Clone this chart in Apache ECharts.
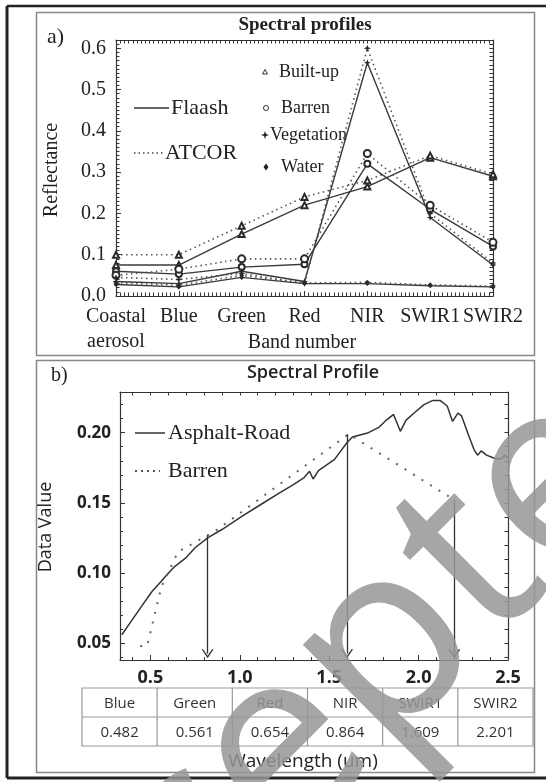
<!DOCTYPE html>
<html>
<head>
<meta charset="utf-8">
<script src="https://cdn.jsdelivr.net/npm/echarts@6/dist/echarts.min.js"></script>
<style>
  html, body { margin: 0; padding: 0; background: #fff; }
  #chart { width: 546px; height: 782px; }
</style>
</head>
<body>
<div id="chart"></div>
<script>
// panel a: band profiles
var bands = ['Coastal\naerosol', 'Blue', 'Green', 'Red', 'NIR', 'SWIR1', 'SWIR2'];
var builtFlaash = [0.075, 0.075, 0.15, 0.22, 0.265, 0.335, 0.29];
var builtAtcor = [0.10, 0.10, 0.17, 0.24, 0.28, 0.34, 0.295];
var barrenFlaash = [0.06, 0.053, 0.07, 0.077, 0.32, 0.21, 0.12];
var barrenAtcor = [0.05, 0.065, 0.09, 0.09, 0.345, 0.22, 0.13];
var vegFlaash = [0.035, 0.03, 0.06, 0.035, 0.565, 0.19, 0.075];
var vegAtcor = [0.045, 0.04, 0.055, 0.03, 0.60, 0.20, 0.08];
var waterFlaash = [0.028, 0.022, 0.045, 0.03, 0.03, 0.025, 0.022];
var waterAtcor = [0.032, 0.026, 0.05, 0.032, 0.033, 0.027, 0.024];
var aTicks = [0.0, 0.1, 0.2, 0.3, 0.4, 0.5, 0.6];

// panel b: spectral profile
var asphaltWl = [0.34, 0.40, 0.46, 0.51, 0.56, 0.58, 0.63, 0.70, 0.75, 0.82, 0.90, 1.02, 1.12, 1.22, 1.30, 1.36, 1.39, 1.41, 1.44, 1.53, 1.60, 1.63, 1.72, 1.78, 1.82, 1.86, 1.898, 1.93, 1.975, 2.03, 2.08, 2.12, 2.16, 2.19, 2.22, 2.24, 2.28, 2.31, 2.33, 2.35, 2.38, 2.42, 2.46, 2.48, 2.50];
var asphaltVal = [0.056, 0.067, 0.078, 0.087, 0.094, 0.097, 0.104, 0.111, 0.118, 0.125, 0.131, 0.141, 0.149, 0.157, 0.163, 0.168, 0.1725, 0.167, 0.173, 0.181, 0.193, 0.197, 0.200, 0.204, 0.209, 0.213, 0.201, 0.209, 0.214, 0.220, 0.223, 0.223, 0.219, 0.208, 0.214, 0.212, 0.198, 0.188, 0.184, 0.187, 0.184, 0.182, 0.181, 0.184, 0.182];
var barrenWl = [0.443, 0.482, 0.561, 0.654, 0.864, 1.609, 2.201];
var barrenVal = [0.048, 0.048, 0.09, 0.115, 0.13, 0.199, 0.152];
var arrowWl = [0.82, 1.6, 2.2];
var arrowTop = [0.127, 0.199, 0.152];
var bTicksX = [0.5, 1.0, 1.5, 2.0, 2.5];
var bTicksY = [0.05, 0.10, 0.15, 0.20];
var tableBands = ['Blue', 'Green', 'Red', 'NIR', 'SWIR1', 'SWIR2'];
var tableWl = ['0.482', '0.561', '0.654', '0.864', '1.609', '2.201'];

var serif = '"Liberation Serif", "DejaVu Serif", serif';
var sans = '"Open Sans", "Liberation Sans", sans-serif';
var ink = '#333';

function steps(from, to, step) {
  var out = [];
  var n = Math.round((to - from) / step);
  for (var i = 0; i <= n; i++) out.push(+(from + i * step).toFixed(6));
  return out;
}

function pairs(xs, ys) {
  return ys.map(function(v, i) { return [xs[i], v]; });
}

var bandIdx = bands.map(function(b, i) { return i; });

function frame(grid, pos, min, max, ticks, len, showLine, label) {
  return {
    type: 'value', gridIndex: grid, position: pos, min: min, max: max,
    axisLine: { show: showLine, onZero: false, lineStyle: { color: ink, width: 1.2 } },
    axisTick: { show: true, inside: true, length: len, customValues: ticks, lineStyle: { color: ink, width: 1 } },
    axisLabel: label || { show: false },
    splitLine: { show: false }
  };
}

var starPath = 'path://M5,0 L6.3,3.7 L10,5 L6.3,6.3 L5,10 L3.7,6.3 L0,5 L3.7,3.7 Z';
var chevron = 'path://M5,0 L10,8 L8.7,8 L5,2.1 L1.3,8 L0,8 Z';

function bandSeries(name, vals, dotted, symbol, size) {
  return {
    name: name, type: 'line', xAxisIndex: 0, yAxisIndex: 0,
    data: pairs(bandIdx, vals),
    symbol: symbol, symbolSize: size, showAllSymbol: true,
    itemStyle: { color: '#2a2a2a', borderWidth: 1 },
    lineStyle: dotted ? { color: '#555', width: 1.6, type: [1.5, 3.5] } : { color: '#3a3a3a', width: 1.4 },
    z: 3
  };
}

var graphics = [
  // outer border and panel boxes
  { type: 'line', shape: { x1: 7, y1: 6, x2: 546, y2: 6 }, style: { stroke: '#222', lineWidth: 2.5 } },
  { type: 'line', shape: { x1: 7, y1: 6, x2: 7, y2: 778 }, style: { stroke: '#222', lineWidth: 3 } },
  { type: 'line', shape: { x1: 7, y1: 778, x2: 546, y2: 778 }, style: { stroke: '#222', lineWidth: 3 } },
  { type: 'rect', shape: { x: 36.5, y: 12.5, width: 498, height: 343 }, style: { fill: 'none', stroke: '#888', lineWidth: 1.5 } },
  { type: 'rect', shape: { x: 36.5, y: 360.5, width: 498, height: 412 }, style: { fill: 'none', stroke: '#888', lineWidth: 1.5 } },

  // panel a texts
  { type: 'text', style: { text: 'a)', x: 47, y: 37, font: '22px ' + serif, fill: '#222', textVerticalAlign: 'middle' } },
  { type: 'text', style: { text: 'Spectral profiles', x: 305, y: 25, font: 'bold 19px ' + serif, fill: '#222', textAlign: 'center', textVerticalAlign: 'middle' } },
  { type: 'text', x: 52, y: 170, rotation: Math.PI / 2, style: { text: 'Reflectance', x: 0, y: 0, font: '20px ' + serif, fill: '#222', textAlign: 'center', textVerticalAlign: 'middle' } },
  { type: 'text', style: { text: 'Band number', x: 302, y: 343, font: '20px ' + serif, fill: '#222', textAlign: 'center', textVerticalAlign: 'middle' } },
  { type: 'line', shape: { x1: 134, y1: 108, x2: 169, y2: 108 }, style: { stroke: '#333', lineWidth: 1.5 } },
  { type: 'text', style: { text: 'Flaash', x: 171, y: 108, font: '22px ' + serif, fill: '#222', textVerticalAlign: 'middle' } },
  { type: 'line', shape: { x1: 134, y1: 153, x2: 164, y2: 153 }, style: { stroke: '#444', lineWidth: 1.6, lineDash: [1.5, 3] } },
  { type: 'text', style: { text: 'ATCOR', x: 165, y: 153, font: '22px ' + serif, fill: '#222', textVerticalAlign: 'middle' } },
  { type: 'polygon', shape: { points: [[262.5, 74], [267.5, 74], [265, 69.5]] }, style: { fill: '#fff', stroke: '#333', lineWidth: 1 } },
  { type: 'text', style: { text: 'Built-up', x: 279, y: 72, font: '18px ' + serif, fill: '#222', textVerticalAlign: 'middle' } },
  { type: 'circle', shape: { cx: 266, cy: 108, r: 2.5 }, style: { fill: '#fff', stroke: '#333', lineWidth: 1 } },
  { type: 'text', style: { text: 'Barren', x: 281, y: 108, font: '18px ' + serif, fill: '#222', textVerticalAlign: 'middle' } },
  { type: 'polygon', shape: { points: [[265, 131], [266, 134], [269, 135], [266, 136], [265, 139], [264, 136], [261, 135], [264, 134]] }, style: { fill: '#222' } },
  { type: 'text', style: { text: 'Vegetation', x: 270, y: 135, font: '18px ' + serif, fill: '#222', textVerticalAlign: 'middle' } },
  { type: 'polygon', shape: { points: [[266, 163.5], [268.5, 167], [266, 170.5], [263.5, 167]] }, style: { fill: '#222' } },
  { type: 'text', style: { text: 'Water', x: 281, y: 167, font: '18px ' + serif, fill: '#222', textVerticalAlign: 'middle' } },

  // panel b texts
  { type: 'text', style: { text: 'b)', x: 51, y: 376, font: '20px ' + serif, fill: '#222', textVerticalAlign: 'middle' } },
  { type: 'text', style: { text: 'Spectral Profile', x: 313, y: 373, font: '600 18px ' + sans, fill: '#222', textAlign: 'center', textVerticalAlign: 'middle' } },
  { type: 'text', x: 46, y: 527, rotation: Math.PI / 2, style: { text: 'Data Value', x: 0, y: 0, font: '18px ' + sans, fill: '#222', textAlign: 'center', textVerticalAlign: 'middle' } },
  { type: 'line', shape: { x1: 135, y1: 433, x2: 165, y2: 433 }, style: { stroke: '#333', lineWidth: 1.5 } },
  { type: 'text', style: { text: 'Asphalt-Road', x: 168, y: 433, font: '22px ' + serif, fill: '#222', textVerticalAlign: 'middle' } },
  { type: 'line', shape: { x1: 135, y1: 471, x2: 160, y2: 471 }, style: { stroke: '#555', lineWidth: 2, lineDash: [2, 4] } },
  { type: 'text', style: { text: 'Barren', x: 168, y: 471, font: '22px ' + serif, fill: '#222', textVerticalAlign: 'middle' } },
  { type: 'text', style: { text: 'Wavelength (um)', x: 303, y: 762, font: '19px ' + sans, fill: '#222', textAlign: 'center', textVerticalAlign: 'middle' } }
];

// wavelength table
var tLeft = 82, tRight = 533, tTop = 688, tMid = 717, tBottom = 746;
var colW = (tRight - tLeft) / tableBands.length;
graphics.push({ type: 'rect', shape: { x: tLeft, y: tTop, width: tRight - tLeft, height: tBottom - tTop }, style: { fill: 'none', stroke: '#999', lineWidth: 1.2 } });
graphics.push({ type: 'line', shape: { x1: tLeft, y1: tMid, x2: tRight, y2: tMid }, style: { stroke: '#999', lineWidth: 1.2 } });
tableBands.forEach(function(b, i) {
  var cx = tLeft + colW * (i + 0.5);
  if (i > 0) {
    graphics.push({ type: 'line', shape: { x1: tLeft + colW * i, y1: tTop, x2: tLeft + colW * i, y2: tBottom }, style: { stroke: '#999', lineWidth: 1.2 } });
  }
  graphics.push({ type: 'text', style: { text: b, x: cx, y: (tTop + tMid) / 2 + 1, font: '15px ' + sans, fill: '#333', textAlign: 'center', textVerticalAlign: 'middle' } });
  graphics.push({ type: 'text', style: { text: tableWl[i], x: cx, y: (tMid + tBottom) / 2 + 1, font: '15px ' + sans, fill: '#333', textAlign: 'center', textVerticalAlign: 'middle' } });
});

// journal watermark
graphics.push({
  type: 'text', x: 331, y: 705, rotation: 45 * Math.PI / 180, silent: true, z: 100,
  style: { text: 'Accepted', x: 0, y: 0, font: '250px ' + sans, fill: 'rgba(150,150,150,0.85)', textAlign: 'center', textVerticalAlign: 'middle' }
});

var labelA = {
  show: true, customValues: bandIdx, margin: 8, color: '#222',
  fontFamily: serif, fontSize: 20, lineHeight: 25,
  formatter: function(v) { return bands[Math.round(v)]; }
};
var labelAY = {
  show: true, customValues: aTicks, margin: 10, color: '#222',
  fontFamily: serif, fontSize: 20,
  formatter: function(v) { return v.toFixed(1); }
};
var labelBX = {
  show: true, customValues: bTicksX, margin: 9, color: '#222',
  fontFamily: sans, fontSize: 18, fontWeight: 'bold',
  formatter: function(v) { return v.toFixed(1); }
};
var labelBY = {
  show: true, customValues: bTicksY, margin: 9, color: '#222',
  fontFamily: sans, fontSize: 17, fontWeight: 'bold',
  formatter: function(v) { return v.toFixed(2); }
};

var aMinorX = steps(0, 6, 1 / 15);
var aMinorY = steps(0, 0.62, 0.01);
var bMinorX = steps(0.4, 2.5, 0.1);
var bMinorY = steps(0.04, 0.22, 0.01);
var gridA = { left: 116, top: 40, width: 377, height: 256 };
var gridB = { left: 120, top: 392, width: 388, height: 268 };

var option = {
  animation: false,
  backgroundColor: '#fff',
  // grids 2 and 3 sit on top of 0 and 1 and only carry the minor ticks
  grid: [gridA, gridB, Object.assign({}, gridA), Object.assign({}, gridB)],
  xAxis: [
    frame(0, 'bottom', 0, 6, bandIdx, 5, true, labelA),
    frame(0, 'top', 0, 6, aMinorX, 3.5, true),
    frame(1, 'bottom', 0.33, 2.5, bTicksX, 5, true, labelBX),
    frame(1, 'top', 0.33, 2.5, bMinorX, 3.5, true),
    frame(2, 'bottom', 0, 6, aMinorX, 3.5, false),
    frame(3, 'bottom', 0.33, 2.5, bMinorX, 3, false)
  ],
  yAxis: [
    frame(0, 'left', 0, 0.62, aTicks, 5, true, labelAY),
    frame(0, 'right', 0, 0.62, aMinorY, 3.5, true),
    frame(1, 'left', 0.038, 0.229, bTicksY, 5, true, labelBY),
    frame(1, 'right', 0.038, 0.229, bMinorY, 3.5, true),
    frame(2, 'left', 0, 0.62, aMinorY, 3.5, false),
    frame(3, 'left', 0.038, 0.229, bMinorY, 3, false)
  ],
  series: [
    bandSeries('Built-up Flaash', builtFlaash, false, 'emptyTriangle', 6),
    bandSeries('Built-up ATCOR', builtAtcor, true, 'emptyTriangle', 6),
    bandSeries('Barren Flaash', barrenFlaash, false, 'emptyCircle', 6),
    bandSeries('Barren ATCOR', barrenAtcor, true, 'emptyCircle', 7),
    bandSeries('Vegetation Flaash', vegFlaash, false, starPath, 7),
    bandSeries('Vegetation ATCOR', vegAtcor, true, starPath, 7),
    bandSeries('Water Flaash', waterFlaash, false, 'diamond', 5),
    bandSeries('Water ATCOR', waterAtcor, true, 'diamond', 5),
    {
      name: 'Asphalt-Road', type: 'line', xAxisIndex: 2, yAxisIndex: 2,
      data: pairs(asphaltWl, asphaltVal), symbol: 'none',
      lineStyle: { color: '#333', width: 1.5 }
    },
    {
      name: 'Barren', type: 'line', xAxisIndex: 2, yAxisIndex: 2,
      data: pairs(barrenWl, barrenVal), symbol: 'none',
      lineStyle: { color: '#666', width: 2, type: [2, 8] }
    },
    {
      name: 'bands', type: 'line', xAxisIndex: 2, yAxisIndex: 2, data: [],
      markLine: {
        silent: true, symbol: ['none', chevron], symbolSize: [12, 9],
        label: { show: false },
        lineStyle: { color: '#333', width: 1.3, type: 'solid' },
        data: arrowWl.map(function(w, i) {
          return [{ coord: [w, arrowTop[i]] }, { coord: [w, 0.0425] }];
        })
      }
    }
  ],
  graphic: graphics
};

var chart = echarts.init(document.getElementById('chart'));
chart.setOption(option);
window.addEventListener('resize', function() { chart.resize(); });
</script>
</body>
</html>
